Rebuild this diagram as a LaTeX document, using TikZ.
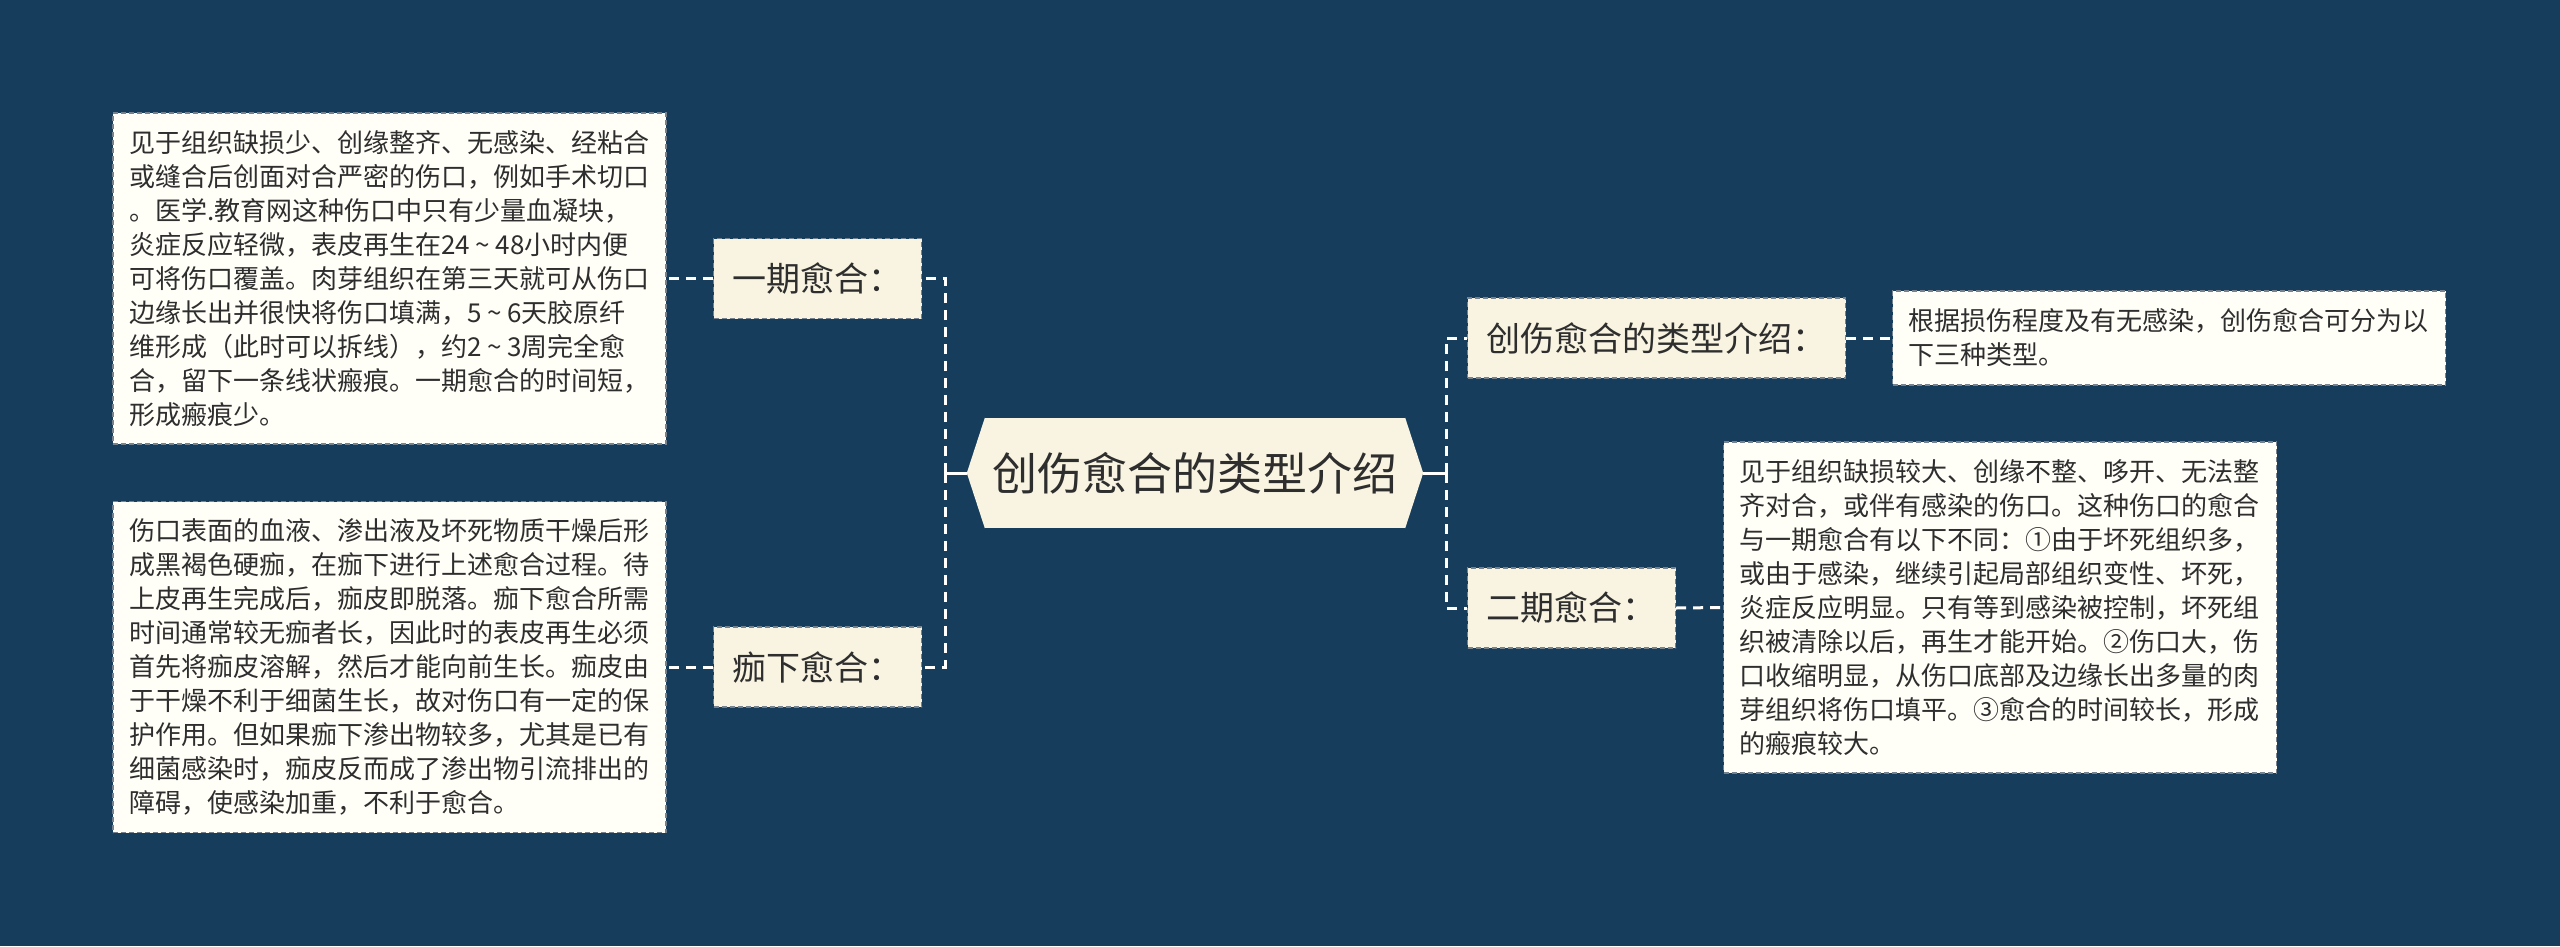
\documentclass[tikz,border=0pt]{standalone}
\usepackage{fontspec}
\setmainfont{Noto Sans CJK SC}
\definecolor{bgnavy}{HTML}{173D5D}
\definecolor{cream}{HTML}{F8F4E1}
\definecolor{paper}{HTML}{FFFEF7}
\definecolor{inkgray}{HTML}{2E2E2E}
\definecolor{edgegray}{HTML}{76838E}
\newcommand{\tld}{\makebox[1em]{\textasciitilde}}

\begin{document}
\begin{tikzpicture}[x=1pt, y=-1pt,
  hub/.style={fill=cream, text=inkgray, inner sep=0pt, minimum width=420pt,
    minimum height=110pt, font=\fontsize{45}{52}\selectfont},
  tag/.style={fill=cream, draw=edgegray, dash pattern=on 5pt off 3pt,
    line width=1.2pt, text=inkgray, inner xsep=19pt, inner ysep=0pt,
    minimum height=80pt, font=\fontsize{34}{40}\selectfont},
  note/.style={fill=paper, draw=edgegray, dash pattern=on 5pt off 3pt,
    line width=1.2pt, text=inkgray, text width=521pt, align=left,
    inner xsep=16pt, inner ysep=0pt, minimum height=331pt,
    font=\fontsize{26}{34}\selectfont},
  twig/.style={draw=white, line width=3pt, dash pattern=on 10pt off 7pt},
  trunk/.style={draw=white, line width=3pt}]
  \fill[bgnavy] (0,0) rectangle (2560,946);
  \useasboundingbox (0,0) rectangle (2560,946);

  \node[hub] (hub) at (1195,473) {创伤愈合的类型介绍};
  \fill[cream] (hub.north east) -- ([xshift=18pt]hub.east) -- (hub.south east) -- cycle;
  \fill[cream] (hub.north west) -- ([xshift=-18pt]hub.west) -- (hub.south west) -- cycle;
  \coordinate (hubL) at ([xshift=-18pt]hub.west);
  \coordinate (hubR) at ([xshift=18pt]hub.east);
  \coordinate (lfork) at (945,473);
  \coordinate (rfork) at (1446,473);

  \node[tag] (t1) at (817.5,278.5) {一期愈合：};
  \node[tag] (t2) at (817.5,667) {痂下愈合：};
  \node[tag] (t3) at (1656.5,338) {创伤愈合的类型介绍：};
  \node[tag] (t4) at (1571.5,608) {二期愈合：};

  \node[note] (n1) at (389.5,278.5) {见于组织缺损少、创缘整齐、无感染、经粘合\\
    或缝合后创面对合严密的伤口，例如手术切口\\
    。医学.教育网这种伤口中只有少量血凝块，\\
    炎症反应轻微，表皮再生在24\tld48小时内便\\
    可将伤口覆盖。肉芽组织在第三天就可从伤口\\
    边缘长出并很快将伤口填满，5\tld6天胶原纤\\
    维形成（此时可以拆线），约2\tld3周完全愈\\
    合，留下一条线状瘢痕。一期愈合的时间短，\\
    形成瘢痕少。};
  \node[note] (n2) at (389.5,667) {伤口表面的血液、渗出液及坏死物质干燥后形\\
    成黑褐色硬痂，在痂下进行上述愈合过程。待\\
    上皮再生完成后，痂皮即脱落。痂下愈合所需\\
    时间通常较无痂者长，因此时的表皮再生必须\\
    首先将痂皮溶解，然后才能向前生长。痂皮由\\
    于干燥不利于细菌生长，故对伤口有一定的保\\
    护作用。但如果痂下渗出物较多，尤其是已有\\
    细菌感染时，痂皮反而成了渗出物引流排出的\\
    障碍，使感染加重，不利于愈合。};
  \node[note, minimum height=94pt] (n3) at (2169,338) {根据损伤程度及有无感染，创伤愈合可分为以\\
    下三种类型。};
  \node[note] (n4) at (2000,607.5) {见于组织缺损较大、创缘不整、哆开、无法整\\
    齐对合，或伴有感染的伤口。这种伤口的愈合\\
    与一期愈合有以下不同：①由于坏死组织多，\\
    或由于感染，继续引起局部组织变性、坏死，\\
    炎症反应明显。只有等到感染被控制，坏死组\\
    织被清除以后，再生才能开始。②伤口大，伤\\
    口收缩明显，从伤口底部及边缘长出多量的肉\\
    芽组织将伤口填平。③愈合的时间较长，形成\\
    的瘢痕较大。};

  \draw[trunk] (hubL) -- (lfork);
  \draw[trunk] ([yshift=-9pt]lfork) -- ([yshift=9pt]lfork);
  \draw[twig] (lfork) |- (t1.east);
  \draw[twig] (lfork) |- (t2.east);
  \draw[trunk] (hubR) -- (rfork);
  \draw[trunk] ([yshift=-9pt]rfork) -- ([yshift=9pt]rfork);
  \draw[twig] (rfork) |- (t3.west);
  \draw[twig] (rfork) |- (t4.west);

  \draw[twig] (t1.west) -- (n1.east);
  \draw[twig] (t2.west) -- (n2.east);
  \draw[twig] (t3.east) -- (n3.west);
  \draw[twig] (t4.east) -- (n4.west);
\end{tikzpicture}
\end{document}
